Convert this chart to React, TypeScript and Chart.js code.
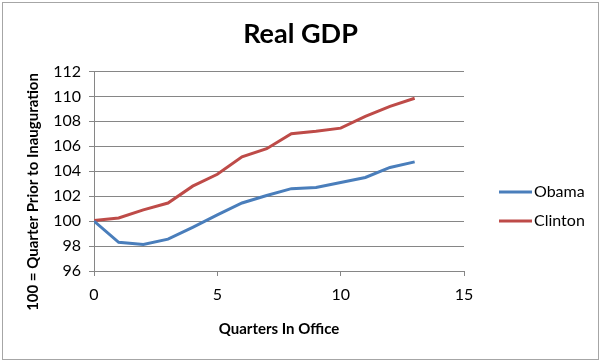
import React, { useEffect, useRef } from "react";
import { Chart, registerables } from "chart.js";

Chart.register(...registerables);

const quarters = [0, 1, 2, 3, 4, 5, 6, 7, 8, 9, 10, 11, 12, 13];
const obama = [100, 98.3, 98.13, 98.55, 99.5, 100.5, 101.45, 102.05, 102.6, 102.7, 103.1, 103.5, 104.3, 104.75];
const clinton = [100.05, 100.25, 100.9, 101.45, 102.8, 103.75, 105.15, 105.8, 107.0, 107.2, 107.45, 108.4, 109.2, 109.85];
const seriesNames = ["Obama", "Clinton"];
const seriesColors = ["#4a7ebb", "#be4b48"];
const chartTitle = "Real GDP";
const xTitle = "Quarters In Office";
const yTitle = "100 = Quarter Prior to Inauguration";

const FONT = "Lato, 'Open Sans', sans-serif";

const framePlugin = {
  id: "frame",
  beforeDraw(chart: any) {
    const ctx = chart.ctx;
    ctx.save();
    ctx.fillStyle = "#ffffff";
    ctx.fillRect(0, 0, chart.width, chart.height);
    ctx.strokeStyle = "#a6a6a6";
    ctx.lineWidth = 1;
    ctx.strokeRect(2.5, 2.5, chart.width - 5, chart.height - 5);
    ctx.restore();
  },
};

const yTitlePlugin = {
  id: "yTitle",
  afterDraw(chart: any, _args: any, opts: any) {
    const ctx = chart.ctx;
    ctx.save();
    ctx.translate(opts.x, opts.y);
    ctx.rotate(-Math.PI / 2);
    ctx.fillStyle = "#000000";
    ctx.font = `bold 15px ${FONT}`;
    ctx.textAlign = "center";
    ctx.textBaseline = "middle";
    ctx.fillText(opts.text, 0, 0);
    ctx.restore();
  },
};

const legendPlugin = {
  id: "sideLegend",
  afterDraw(chart: any, _args: any, opts: any) {
    const ctx = chart.ctx;
    const area = chart.chartArea;
    ctx.save();
    chart.data.datasets.forEach((ds: any, i: number) => {
      const y = opts.top + i * opts.spacing;
      const x0 = area.right + opts.offsetX;
      ctx.strokeStyle = ds.borderColor;
      ctx.lineWidth = 3;
      ctx.beginPath();
      ctx.moveTo(x0, y);
      ctx.lineTo(x0 + opts.lineLen, y);
      ctx.stroke();
      ctx.fillStyle = "#000000";
      ctx.font = `16px ${FONT}`;
      ctx.textBaseline = "middle";
      ctx.textAlign = "left";
      ctx.fillText(ds.label, x0 + opts.lineLen + 2, y);
    });
    ctx.restore();
  },
};

export default function App() {
  const ref = useRef<HTMLCanvasElement | null>(null);

  useEffect(() => {
    document.body.style.margin = "0";
    const canvas = ref.current;
    if (!canvas) return;
    const chart = new Chart(canvas, {
      type: "line",
      data: {
        datasets: [obama, clinton].map((vals, i) => ({
          label: seriesNames[i],
          data: quarters.map((q, j) => ({ x: q, y: vals[j] })),
          borderColor: seriesColors[i],
          backgroundColor: seriesColors[i],
          borderWidth: 3,
          pointRadius: 0,
          tension: 0,
          fill: false,
        })),
      },
      options: {
        responsive: false,
        animation: false,
        layout: { padding: 0 },
        plugins: {
          legend: { display: false },
          tooltip: { enabled: false },
          title: {
            display: true,
            text: chartTitle,
            color: "#000000",
            font: { family: FONT, size: 27, weight: "bold" },
            padding: { top: 18, bottom: 21 },
          },
          sideLegend: { top: 192, spacing: 29, offsetX: 35, lineLen: 33 },
          yTitle: { text: yTitle, x: 33, y: 192 },
        } as any,
        scales: {
          x: {
            type: "linear",
            min: 0,
            max: 15,
            afterFit: (s: any) => {
              s.height = 91;
            },
            ticks: {
              stepSize: 5,
              color: "#000000",
              font: { family: FONT, size: 16 },
              padding: 9,
            },
            grid: {
              display: true,
              drawOnChartArea: false,
              drawTicks: true,
              tickLength: 5,
              color: "#868686",
            },
            border: { display: true, color: "#868686" },
            title: {
              display: true,
              text: xTitle,
              color: "#000000",
              font: { family: FONT, size: 15, weight: "bold" },
              padding: { top: 0, bottom: 24 },
            },
          },
          y: {
            type: "linear",
            min: 96,
            max: 112,
            afterFit: (s: any) => {
              s.width = 94;
            },
            ticks: {
              stepSize: 2,
              color: "#000000",
              font: { family: FONT, size: 16 },
              padding: 8,
            },
            grid: {
              color: "#868686",
              tickLength: 5,
            },
            border: { display: true, color: "#868686" },
          },
          legendSpace: {
            type: "linear",
            position: "right",
            display: true,
            afterFit: (s: any) => {
              s.width = 137;
            },
            ticks: { display: false },
            grid: { display: false, drawOnChartArea: false },
            border: { display: false },
          },
        } as any,
      },
      plugins: [framePlugin, legendPlugin, yTitlePlugin],
    });
    return () => chart.destroy();
  }, []);

  return (
    <div style={{ width: 601, height: 362 }}>
      <canvas ref={ref} width={601} height={362} style={{ display: "block" }} />
    </div>
  );
}
